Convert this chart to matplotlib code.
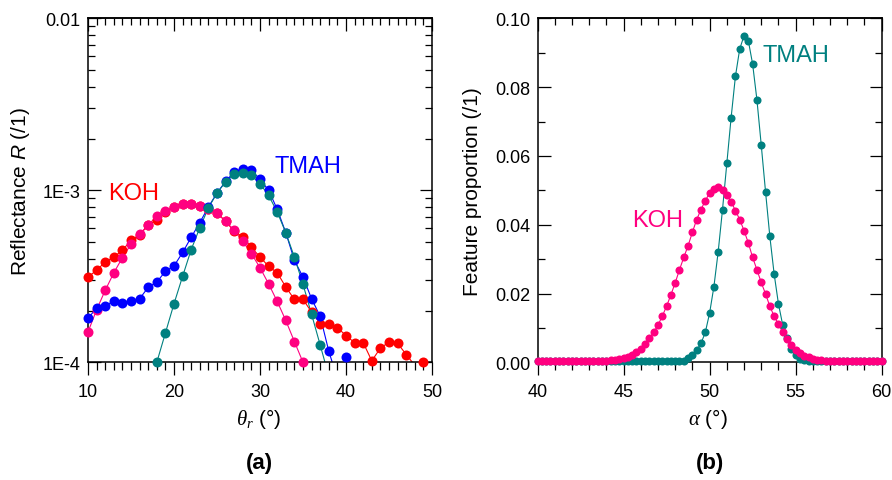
import numpy as np
import matplotlib
matplotlib.use("Agg")
import matplotlib.pyplot as plt
from matplotlib.ticker import (MultipleLocator, LogLocator, FixedLocator,
                               FixedFormatter, NullFormatter, FormatStrFormatter)

plt.rcParams['font.family'] = ['Liberation Sans', 'DejaVu Sans']
plt.rcParams['mathtext.fontset'] = 'custom'
plt.rcParams['mathtext.rm'] = 'Liberation Sans'
plt.rcParams['mathtext.it'] = 'Liberation Serif:italic'
plt.rcParams['mathtext.sf'] = 'Liberation Sans:italic'
plt.rcParams['mathtext.bf'] = 'Liberation Sans:bold'

# ---------------- data: panel (a) reflectance vs theta_r ----------------
theta_koh_red = list(range(10, 50))
refl_koh_red = [3.13e-4, 3.43e-4, 3.83e-4, 4.09e-4, 4.48e-4, 5.12e-4, 5.52e-4, 6.26e-4,
                6.75e-4, 7.48e-4, 8.00e-4, 8.36e-4, 8.36e-4, 8.10e-4, 7.80e-4, 7.38e-4,
                6.60e-4, 5.78e-4, 5.36e-4, 4.65e-4, 4.10e-4, 3.61e-4, 3.32e-4, 2.74e-4,
                2.32e-4, 2.32e-4, 1.96e-4, 1.68e-4, 1.66e-4, 1.59e-4, 1.43e-4, 1.30e-4,
                1.30e-4, 1.02e-4, 1.21e-4, 1.31e-4, 1.29e-4, 1.11e-4, 0.96e-4, 1.01e-4]

theta_koh_pink = list(range(10, 36))
refl_koh_pink = [1.50e-4, 2.02e-4, 2.62e-4, 3.31e-4, 4.06e-4, 4.86e-4, 5.55e-4, 6.30e-4,
                 7.05e-4, 7.55e-4, 8.05e-4, 8.36e-4, 8.30e-4, 8.10e-4, 7.82e-4, 7.38e-4,
                 6.60e-4, 5.85e-4, 5.05e-4, 4.28e-4, 3.55e-4, 2.86e-4, 2.26e-4, 1.75e-4,
                 1.32e-4, 1.00e-4]

theta_tmah_blue = list(range(10, 41))
refl_tmah_blue = [1.80e-4, 2.07e-4, 2.12e-4, 2.28e-4, 2.22e-4, 2.27e-4, 2.34e-4, 2.73e-4,
                  2.93e-4, 3.38e-4, 3.63e-4, 4.35e-4, 5.33e-4, 6.49e-4, 8.00e-4, 9.65e-4,
                  1.127e-3, 1.279e-3, 1.337e-3, 1.307e-3, 1.158e-3, 1.00e-3, 7.76e-4,
                  5.67e-4, 3.92e-4, 3.13e-4, 2.34e-4, 1.85e-4, 1.16e-4, 0.80e-4, 1.07e-4]

theta_tmah_teal = list(range(18, 39))
refl_tmah_teal = [1.00e-4, 1.48e-4, 2.19e-4, 3.16e-4, 4.52e-4, 6.06e-4, 7.90e-4, 9.65e-4,
                  1.118e-3, 1.250e-3, 1.267e-3, 1.220e-3, 1.093e-3, 9.35e-4, 7.48e-4,
                  5.67e-4, 4.09e-4, 2.84e-4, 1.90e-4, 1.26e-4, 0.83e-4]

# ---------------- data: panel (b) feature proportion vs alpha ----------------
alpha_deg = np.arange(40.0, 60.001, 0.25)
prop_koh = [0.0005, 0.0005, 0.0005, 0.0005, 0.0005, 0.0005, 0.0005, 0.0005, 0.0005,
            0.0005, 0.0005, 0.0005, 0.0005, 0.0005, 0.0005, 0.0005, 0.0005,
            0.0006, 0.0007, 0.0009, 0.0012, 0.0016, 0.0021, 0.0029, 0.0039, 0.0053,
            0.0070, 0.0087, 0.0108, 0.0134, 0.0163, 0.0196, 0.0231, 0.0269, 0.0305,
            0.0339, 0.0378, 0.0415, 0.0444, 0.0470, 0.0492, 0.0504, 0.0509, 0.0500,
            0.0485, 0.0467, 0.0441, 0.0415, 0.0383, 0.0347, 0.0305, 0.0269, 0.0232,
            0.0199, 0.0163, 0.0134, 0.0111, 0.0087, 0.0068, 0.0050, 0.0037, 0.0027,
            0.0019, 0.0014, 0.0010, 0.0008, 0.0006,
            0.0005, 0.0005, 0.0005, 0.0005, 0.0005, 0.0005, 0.0005, 0.0005, 0.0005,
            0.0005, 0.0005, 0.0005, 0.0005, 0.0005]
prop_tmah = [0.0005, 0.0005, 0.0005, 0.0005, 0.0005, 0.0005, 0.0005, 0.0005, 0.0005,
             0.0005, 0.0005, 0.0005, 0.0005, 0.0005, 0.0005, 0.0005, 0.0005, 0.0005,
             0.0005, 0.0005, 0.0005, 0.0005, 0.0005, 0.0005, 0.0005, 0.0005, 0.0005,
             0.0005, 0.0005, 0.0005, 0.0005, 0.0005, 0.0005, 0.0005, 0.0005,
             0.0012, 0.0022, 0.0036, 0.0055, 0.0087, 0.0143, 0.0220, 0.0322, 0.0444,
             0.0578, 0.0711, 0.0831, 0.0911, 0.0949, 0.0935, 0.0867, 0.0763, 0.0632,
             0.0496, 0.0366, 0.0257, 0.0170, 0.0108, 0.0070, 0.0039, 0.0020, 0.0011,
             0.0007,
             0.0005, 0.0005, 0.0005, 0.0005, 0.0005, 0.0005, 0.0005, 0.0005, 0.0005,
             0.0005, 0.0005, 0.0005, 0.0005, 0.0005, 0.0005, 0.0005, 0.0005, 0.0005]

log_ticks = [1e-4, 1e-3, 1e-2]
log_tick_labels = ['1E-4', '1E-3', '0.01']

RED = '#ff0000'
PINK = '#ff0080'
BLUE = '#0000ff'
TEAL = '#008080'

W, H = 892, 481
fig = plt.figure(figsize=(W / 100, H / 100), dpi=100)

def px_axes(x0, x1, ytop, ybot):
    return fig.add_axes([x0 / W, 1 - ybot / H, (x1 - x0) / W, (ybot - ytop) / H])

axa = px_axes(88, 432, 19.3, 363.3)
axb = px_axes(537.5, 881.7, 19.3, 363.3)

def draw(ax, x, y, color, ms, ymin=None):
    x = np.asarray(x, float)
    y = np.asarray(y, float)
    ax.plot(x, y, '-', color=color, lw=0.8, zorder=2)
    m = np.ones(len(y), bool) if ymin is None else (y >= ymin * 0.999)
    ax.plot(x[m], y[m], 'o', color=color, ms=ms, mec='none', clip_on=False, zorder=3)

# ---- panel (a)
axa.set_yscale('log')
draw(axa, theta_koh_red, refl_koh_red, RED, 7.2, 1e-4)
draw(axa, theta_koh_pink, refl_koh_pink, PINK, 7.2, 1e-4)
draw(axa, theta_tmah_blue, refl_tmah_blue, BLUE, 7.2, 1e-4)
draw(axa, theta_tmah_teal, refl_tmah_teal, TEAL, 7.2, 1e-4)
axa.set_xlim(10, 50)
axa.set_ylim(1e-4, 1e-2)
axa.xaxis.set_major_locator(MultipleLocator(10))
axa.xaxis.set_minor_locator(MultipleLocator(1))
axa.yaxis.set_major_locator(FixedLocator(log_ticks))
axa.yaxis.set_major_formatter(FixedFormatter(log_tick_labels))
axa.yaxis.set_minor_locator(LogLocator(base=10, subs=np.arange(2, 10)))
axa.yaxis.set_minor_formatter(NullFormatter())

axa.text(12.3, 8.95e-4, 'KOH', color=RED, fontsize=17, ha='left', va='baseline')
axa.text(31.7, 1.285e-3, 'TMAH', color=BLUE, fontsize=17, ha='left', va='baseline')

# ---- panel (b)
draw(axb, alpha_deg, prop_tmah, TEAL, 5.8)
draw(axb, alpha_deg, prop_koh, PINK, 5.8)
axb.set_xlim(40, 60)
axb.set_ylim(0, 0.1)
axb.xaxis.set_major_locator(MultipleLocator(5))
axb.xaxis.set_minor_locator(MultipleLocator(1))
axb.yaxis.set_major_locator(MultipleLocator(0.02))
axb.yaxis.set_minor_locator(MultipleLocator(0.01))
axb.yaxis.set_major_formatter(FormatStrFormatter('%.2f'))

axb.text(53.09, 0.0876, 'TMAH', color=TEAL, fontsize=17, ha='left', va='baseline')
axb.text(45.47, 0.0396, 'KOH', color=PINK, fontsize=17, ha='left', va='baseline')

for ax in (axa, axb):
    for s in ax.spines.values():
        s.set_linewidth(1.1)
    ax.tick_params(axis='y', which='both', direction='in', left=True, right=True,
                   labelsize=13, pad=5.2, width=0.9)
    ax.tick_params(axis='y', which='major', length=9)
    ax.tick_params(axis='y', which='minor', length=5.2)
    ax.tick_params(axis='x', which='both', direction='out', bottom=True, top=False,
                   labelsize=13, pad=5.5, width=0.9)
    ax.tick_params(axis='x', which='major', length=9.5)
    ax.tick_params(axis='x', which='minor', length=5.5)
    sec = ax.secondary_xaxis('top')
    sec.xaxis.set_major_locator(ax.xaxis.get_major_locator())
    sec.xaxis.set_minor_locator(ax.xaxis.get_minor_locator())
    sec.tick_params(axis='x', which='both', direction='in', labeltop=False, width=0.9)
    sec.tick_params(axis='x', which='major', length=9)
    sec.tick_params(axis='x', which='minor', length=5.2)
    sec.spines['top'].set_linewidth(1.1)

# ---- axis labels and panel captions (figure pixel positions)
def ftext(xp, yp, s, **kw):
    fig.text(xp / W, 1 - yp / H, s, **kw)

ftext(21, 192, 'Reflectance $\\mathsf{R}$ (/1)', rotation=90, fontsize=15,
      ha='center', va='center')
ftext(473, 192, 'Feature proportion (/1)', rotation=90, fontsize=15,
      ha='center', va='center')
ftext(258.5, 425, '$\\theta_r$ (°)', fontsize=15, ha='center', va='baseline')
ftext(708, 425, '$\\alpha$ (°)', fontsize=15, ha='center', va='baseline')
ftext(259, 464, '(a)', fontsize=16, fontweight='bold', ha='center', va='center')
ftext(710, 464, '(b)', fontsize=16, fontweight='bold', ha='center', va='center')

fig.savefig('out.png', dpi=100)
